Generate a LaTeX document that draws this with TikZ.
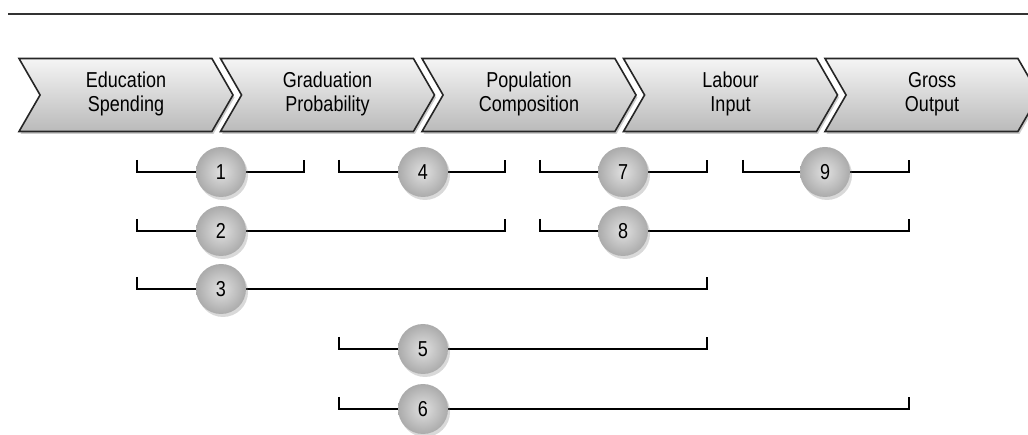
\documentclass[tikz,border=0pt]{standalone}
\usepackage{fontspec}
\setmainfont{Liberation Sans}
\usetikzlibrary{shapes.symbols,shadows}

\tikzset{
  stage/.style={signal, signal from=west, signal to=east, signal pointer angle=120,
    draw=black!85, line width=1.6pt, top color=black!4, bottom color=black!27,
    minimum width=214pt, minimum height=73pt, inner sep=0pt, align=center,
    drop shadow={opacity=0.4,shadow xshift=1.5pt,shadow yshift=-2.5pt},
    font=\fontsize{18}{20}\selectfont},
  ball/.style={circle, inner color=black!12, outer color=black!33, minimum size=50pt, inner sep=0pt,
    drop shadow={opacity=0.3,shadow xshift=2pt,shadow yshift=-3pt},
    font=\fontsize{18}{20}\selectfont},
  bracket/.style={line width=1.6pt, black}
}

\begin{document}
\begin{tikzpicture}[x=1pt,y=-1pt]
  \useasboundingbox (0,0) rectangle (1028,435);
  \draw[black!80,line width=1.2pt] (8,14) -- (1028,14);
  % stages of the chain
  \foreach \name/\txt [count=\i from 0] in {edu/Education\\Spending, grad/Graduation\\Probability,
      pop/Population\\Composition, lab/Labour\\Input, out/Gross\\Output}
    \node[stage] (\name) at (126+201.5*\i,95)
      {\scalebox{1}[1.2]{\begin{tabular}{@{}c@{}}\txt\end{tabular}}};
  % brackets with numbered balls
  \foreach \k/\a/\b/\y/\c in {1/137/304/172/221, 2/137/505/231/221, 3/137/707/289/221,
      4/339/505/172/423, 5/339/707/349/423, 6/339/909/409/423,
      7/540/707/172/623, 8/540/909/231/623, 9/743/909/172/825}{
    \coordinate (l\k) at (\a,\y);
    \coordinate (r\k) at (\b,\y);
    \draw[bracket] ([yshift=12pt]l\k) -- (l\k) -- (r\k) -- ([yshift=12pt]r\k);
    \node[ball] (n\k) at (\c,\y) {\scalebox{1}[1.2]{\k}};
  }
\end{tikzpicture}
\end{document}
